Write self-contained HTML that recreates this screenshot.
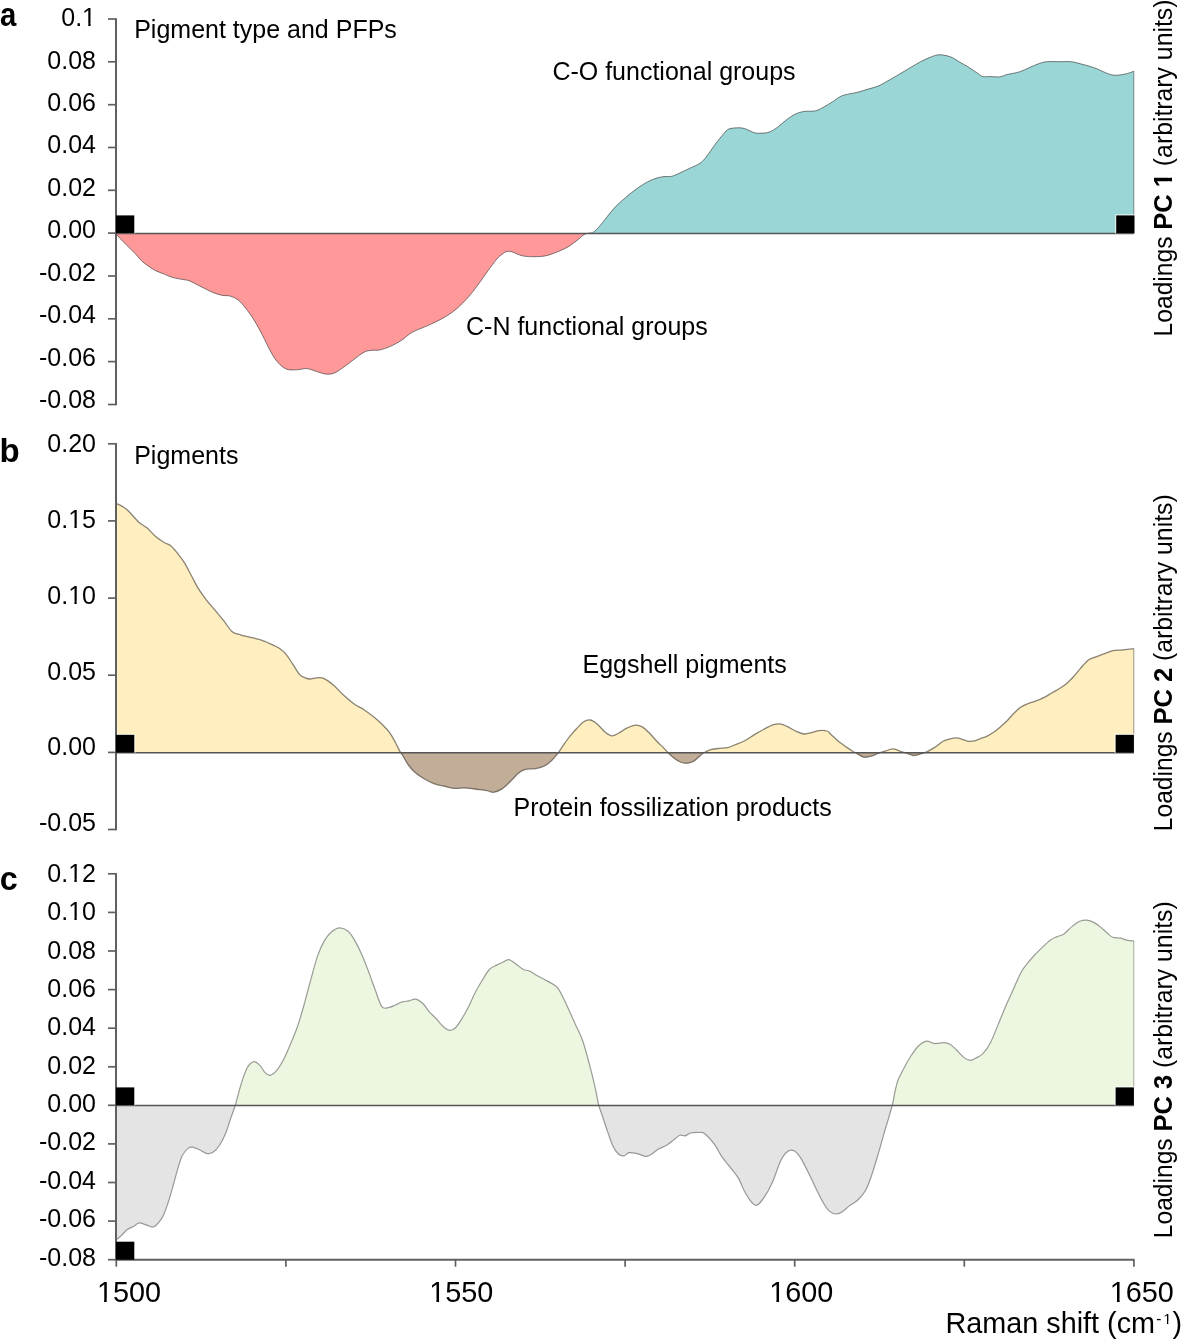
<!DOCTYPE html>
<html><head><meta charset="utf-8"><style>
html,body{margin:0;padding:0;background:#fff;overflow:hidden;width:1181px;height:1340px;}
svg{display:block;will-change:transform;}
text{font-family:"Liberation Sans", sans-serif;fill:#000;}
.tk{font-size:25px;}
.xl{font-size:28.8px;}
.xt{font-size:28.8px;}
.an{font-size:25px;}
.pl{font-size:33px;font-weight:bold;}
.rl{font-size:25px;}
</style></head><body>
<svg width="1181" height="1340" viewBox="0 0 1181 1340">
<clipPath id="ap"><rect x="0" y="0" width="1181" height="233.4"/></clipPath>
<clipPath id="an"><rect x="0" y="233.4" width="1181" height="600"/></clipPath>
<path d="M116.4,234.3C117,235 118.5,236.7 120.2,238.5C122,240.3 124.4,242.8 126.9,245.3C129.4,247.9 132.9,251.1 135.4,253.8C137.9,256.5 139.9,259.3 142.2,261.4C144.5,263.5 146.8,264.9 149,266.5C151.2,268.1 153.2,269.4 155.7,270.7C158.2,272 161.4,273 164.2,274.1C167,275.2 169.6,276.6 172.7,277.5C175.8,278.4 180,278.9 182.8,279.5C185.6,280.1 186.8,279.8 189.6,280.9C192.4,282 196.1,284.2 199.8,286C203.5,287.8 207.9,290.3 211.6,291.9C215.3,293.4 218.7,294.6 221.8,295.3C224.9,296 227.4,295.2 230.2,296.1C233,297 236.1,298.4 238.7,300.4C241.2,302.4 243,304.8 245.5,308C248,311.2 251.1,315.3 253.9,319.8C256.7,324.3 259.6,329.7 262.4,335.1C265.2,340.5 268.3,347.5 270.9,352C273.4,356.5 275.2,359.4 277.7,362.2C280.2,365 283,367.7 286.1,369C289.2,370.3 292.9,369.9 296.3,369.8C299.8,369.7 303.7,368.4 306.8,368.6C309.9,368.8 312.1,370.1 315.2,371C318.3,371.9 322.3,373.6 325.4,374C328.5,374.4 331.1,374.2 333.9,373.2C336.7,372.2 339.2,370.2 342.3,368.1C345.4,366 348.8,363.2 352.5,360.5C356.2,357.8 361,353.7 364.4,352C367.8,350.3 370.3,350.6 372.8,350.3C375.3,350 376.8,350.6 379.6,350C382.4,349.4 386.1,348.2 389.8,346.6C393.5,345 397.9,342.6 401.6,340.2C405.3,337.8 407.9,334.8 411.8,332.5C415.8,330.2 421.4,328.4 425.3,326.6C429.2,324.9 431.8,323.8 435.5,322C439.2,320.2 443.6,317.9 447.3,315.6C451,313.3 454.1,311 457.5,308C460.9,305 464.3,301.6 467.7,297.8C471.1,294 474.4,289.6 477.8,285.1C481.2,280.6 484.8,275 488,270.7C491.2,266.4 494.5,261.8 496.8,259.1C499.1,256.4 500.2,255.7 501.9,254.4C503.6,253.1 505.2,251.9 506.9,251.5C508.6,251.1 510.3,251.4 512,251.8C513.7,252.2 515.1,253.3 517.1,254C519.1,254.7 521.1,255.7 523.9,256.1C526.7,256.6 530.6,256.7 534,256.7C537.4,256.7 541.1,256.6 544.2,256.1C547.3,255.6 549.9,254.7 552.7,253.7C555.5,252.7 558.3,251.6 561.1,250.3C563.9,249 566.8,247.7 569.6,245.9C572.4,244.1 575.6,241.6 578.1,239.6C580.6,237.6 582.5,235.3 584.8,234.2C587,233.1 590.2,233.2 591.6,232.9C593,232.6 592,233.5 593.4,232.3C594.8,231.1 598,228.1 600.2,225.5C602.5,222.9 604.4,220.1 606.9,217C609.4,213.9 612.3,210.1 615.4,206.8C618.5,203.6 622.5,200.2 625.6,197.5C628.7,194.8 631.2,192.9 634,190.8C636.8,188.7 639.4,186.7 642.5,184.8C645.6,182.9 649.3,180.8 652.7,179.4C656.1,178.1 659.7,177.2 662.8,176.7C665.9,176.2 668.5,177 671.3,176.4C674.1,175.8 676.7,174.4 679.8,173C682.9,171.6 686.5,169.8 689.9,168.2C693.3,166.6 697.3,165.2 700.1,163.2C702.9,161.2 704.4,159.2 706.9,156C709.4,152.8 712.5,147.9 715.3,144.2C718.1,140.5 721.5,136.2 723.8,133.7C726.1,131.2 726.4,130 728.9,129C731.4,128 736.2,127.8 739,127.8C741.8,127.8 743.2,128.2 745.8,129C748.3,129.8 751.8,132 754.3,132.7C756.8,133.4 758.5,133.3 761,133.2C763.5,133.1 766.7,133.1 769.5,132C772.3,130.9 775.1,129 778,126.9C780.9,124.8 783.9,121.7 786.8,119.6C789.7,117.5 792.4,115.5 795.2,114.2C798,112.9 800.3,112.1 803.7,111.5C807.1,110.9 812.2,111.6 815.6,110.8C819,110 821.2,108.4 824,106.9C826.8,105.4 829.7,103.6 832.5,101.8C835.3,100 838.2,97.5 841,96.2C843.8,94.9 846.6,94.6 849.4,93.9C852.2,93.2 854.8,93 857.9,92.2C861,91.4 864.7,90.1 868.1,89.1C871.5,88.1 875.1,87.4 878.2,86.1C881.3,84.8 883.3,83.4 886.7,81.5C890.1,79.6 894.5,77 898.5,74.7C902.5,72.4 906.7,69.8 910.4,67.6C914.1,65.4 917.5,63.3 920.6,61.7C923.7,60.1 926.2,58.9 929,57.8C931.8,56.7 934.7,55.3 937.5,54.9C940.3,54.5 943.5,55.1 946,55.6C948.5,56.1 950.5,56.7 952.7,57.8C955,58.9 957,60.5 959.5,62C962,63.5 965.1,65 968,66.8C970.9,68.6 974.3,71.1 976.8,72.7C979.3,74.3 980.6,75.9 982.9,76.5C985.2,77.1 987.7,76.4 990.5,76.5C993.3,76.6 996.8,77.2 999.6,76.9C1002.4,76.6 1003.9,75.3 1007.2,74.5C1010.5,73.7 1015.6,73.1 1019.4,71.9C1023.2,70.7 1026.8,68.7 1030.1,67.3C1033.4,65.9 1036.5,64.4 1039.3,63.5C1042.1,62.6 1043.6,62 1046.9,61.7C1050.2,61.4 1055,61.7 1059.1,61.7C1063.2,61.7 1067.8,61.4 1071.3,61.7C1074.8,62.1 1077.4,63 1080.4,63.8C1083.5,64.6 1086.8,65.4 1089.6,66.3C1092.4,67.2 1094.7,67.9 1097.2,68.9C1099.7,69.9 1102.3,71.4 1104.8,72.4C1107.3,73.4 1109.9,74.6 1112.4,75C1114.9,75.4 1117.5,75.3 1120,75C1122.5,74.7 1125.4,74 1127.7,73.4C1130,72.8 1132.8,71.6 1133.8,71.2L1133.8,233.4L116.4,233.4Z" fill="#9bd6d6" clip-path="url(#ap)"/>
<path d="M116.4,234.3C117,235 118.5,236.7 120.2,238.5C122,240.3 124.4,242.8 126.9,245.3C129.4,247.9 132.9,251.1 135.4,253.8C137.9,256.5 139.9,259.3 142.2,261.4C144.5,263.5 146.8,264.9 149,266.5C151.2,268.1 153.2,269.4 155.7,270.7C158.2,272 161.4,273 164.2,274.1C167,275.2 169.6,276.6 172.7,277.5C175.8,278.4 180,278.9 182.8,279.5C185.6,280.1 186.8,279.8 189.6,280.9C192.4,282 196.1,284.2 199.8,286C203.5,287.8 207.9,290.3 211.6,291.9C215.3,293.4 218.7,294.6 221.8,295.3C224.9,296 227.4,295.2 230.2,296.1C233,297 236.1,298.4 238.7,300.4C241.2,302.4 243,304.8 245.5,308C248,311.2 251.1,315.3 253.9,319.8C256.7,324.3 259.6,329.7 262.4,335.1C265.2,340.5 268.3,347.5 270.9,352C273.4,356.5 275.2,359.4 277.7,362.2C280.2,365 283,367.7 286.1,369C289.2,370.3 292.9,369.9 296.3,369.8C299.8,369.7 303.7,368.4 306.8,368.6C309.9,368.8 312.1,370.1 315.2,371C318.3,371.9 322.3,373.6 325.4,374C328.5,374.4 331.1,374.2 333.9,373.2C336.7,372.2 339.2,370.2 342.3,368.1C345.4,366 348.8,363.2 352.5,360.5C356.2,357.8 361,353.7 364.4,352C367.8,350.3 370.3,350.6 372.8,350.3C375.3,350 376.8,350.6 379.6,350C382.4,349.4 386.1,348.2 389.8,346.6C393.5,345 397.9,342.6 401.6,340.2C405.3,337.8 407.9,334.8 411.8,332.5C415.8,330.2 421.4,328.4 425.3,326.6C429.2,324.9 431.8,323.8 435.5,322C439.2,320.2 443.6,317.9 447.3,315.6C451,313.3 454.1,311 457.5,308C460.9,305 464.3,301.6 467.7,297.8C471.1,294 474.4,289.6 477.8,285.1C481.2,280.6 484.8,275 488,270.7C491.2,266.4 494.5,261.8 496.8,259.1C499.1,256.4 500.2,255.7 501.9,254.4C503.6,253.1 505.2,251.9 506.9,251.5C508.6,251.1 510.3,251.4 512,251.8C513.7,252.2 515.1,253.3 517.1,254C519.1,254.7 521.1,255.7 523.9,256.1C526.7,256.6 530.6,256.7 534,256.7C537.4,256.7 541.1,256.6 544.2,256.1C547.3,255.6 549.9,254.7 552.7,253.7C555.5,252.7 558.3,251.6 561.1,250.3C563.9,249 566.8,247.7 569.6,245.9C572.4,244.1 575.6,241.6 578.1,239.6C580.6,237.6 582.5,235.3 584.8,234.2C587,233.1 590.2,233.2 591.6,232.9C593,232.6 592,233.5 593.4,232.3C594.8,231.1 598,228.1 600.2,225.5C602.5,222.9 604.4,220.1 606.9,217C609.4,213.9 612.3,210.1 615.4,206.8C618.5,203.6 622.5,200.2 625.6,197.5C628.7,194.8 631.2,192.9 634,190.8C636.8,188.7 639.4,186.7 642.5,184.8C645.6,182.9 649.3,180.8 652.7,179.4C656.1,178.1 659.7,177.2 662.8,176.7C665.9,176.2 668.5,177 671.3,176.4C674.1,175.8 676.7,174.4 679.8,173C682.9,171.6 686.5,169.8 689.9,168.2C693.3,166.6 697.3,165.2 700.1,163.2C702.9,161.2 704.4,159.2 706.9,156C709.4,152.8 712.5,147.9 715.3,144.2C718.1,140.5 721.5,136.2 723.8,133.7C726.1,131.2 726.4,130 728.9,129C731.4,128 736.2,127.8 739,127.8C741.8,127.8 743.2,128.2 745.8,129C748.3,129.8 751.8,132 754.3,132.7C756.8,133.4 758.5,133.3 761,133.2C763.5,133.1 766.7,133.1 769.5,132C772.3,130.9 775.1,129 778,126.9C780.9,124.8 783.9,121.7 786.8,119.6C789.7,117.5 792.4,115.5 795.2,114.2C798,112.9 800.3,112.1 803.7,111.5C807.1,110.9 812.2,111.6 815.6,110.8C819,110 821.2,108.4 824,106.9C826.8,105.4 829.7,103.6 832.5,101.8C835.3,100 838.2,97.5 841,96.2C843.8,94.9 846.6,94.6 849.4,93.9C852.2,93.2 854.8,93 857.9,92.2C861,91.4 864.7,90.1 868.1,89.1C871.5,88.1 875.1,87.4 878.2,86.1C881.3,84.8 883.3,83.4 886.7,81.5C890.1,79.6 894.5,77 898.5,74.7C902.5,72.4 906.7,69.8 910.4,67.6C914.1,65.4 917.5,63.3 920.6,61.7C923.7,60.1 926.2,58.9 929,57.8C931.8,56.7 934.7,55.3 937.5,54.9C940.3,54.5 943.5,55.1 946,55.6C948.5,56.1 950.5,56.7 952.7,57.8C955,58.9 957,60.5 959.5,62C962,63.5 965.1,65 968,66.8C970.9,68.6 974.3,71.1 976.8,72.7C979.3,74.3 980.6,75.9 982.9,76.5C985.2,77.1 987.7,76.4 990.5,76.5C993.3,76.6 996.8,77.2 999.6,76.9C1002.4,76.6 1003.9,75.3 1007.2,74.5C1010.5,73.7 1015.6,73.1 1019.4,71.9C1023.2,70.7 1026.8,68.7 1030.1,67.3C1033.4,65.9 1036.5,64.4 1039.3,63.5C1042.1,62.6 1043.6,62 1046.9,61.7C1050.2,61.4 1055,61.7 1059.1,61.7C1063.2,61.7 1067.8,61.4 1071.3,61.7C1074.8,62.1 1077.4,63 1080.4,63.8C1083.5,64.6 1086.8,65.4 1089.6,66.3C1092.4,67.2 1094.7,67.9 1097.2,68.9C1099.7,69.9 1102.3,71.4 1104.8,72.4C1107.3,73.4 1109.9,74.6 1112.4,75C1114.9,75.4 1117.5,75.3 1120,75C1122.5,74.7 1125.4,74 1127.7,73.4C1130,72.8 1132.8,71.6 1133.8,71.2L1133.8,233.4L116.4,233.4Z" fill="#ff9999" clip-path="url(#an)"/>
<path d="M116.4,234.3C117,235 118.5,236.7 120.2,238.5C122,240.3 124.4,242.8 126.9,245.3C129.4,247.9 132.9,251.1 135.4,253.8C137.9,256.5 139.9,259.3 142.2,261.4C144.5,263.5 146.8,264.9 149,266.5C151.2,268.1 153.2,269.4 155.7,270.7C158.2,272 161.4,273 164.2,274.1C167,275.2 169.6,276.6 172.7,277.5C175.8,278.4 180,278.9 182.8,279.5C185.6,280.1 186.8,279.8 189.6,280.9C192.4,282 196.1,284.2 199.8,286C203.5,287.8 207.9,290.3 211.6,291.9C215.3,293.4 218.7,294.6 221.8,295.3C224.9,296 227.4,295.2 230.2,296.1C233,297 236.1,298.4 238.7,300.4C241.2,302.4 243,304.8 245.5,308C248,311.2 251.1,315.3 253.9,319.8C256.7,324.3 259.6,329.7 262.4,335.1C265.2,340.5 268.3,347.5 270.9,352C273.4,356.5 275.2,359.4 277.7,362.2C280.2,365 283,367.7 286.1,369C289.2,370.3 292.9,369.9 296.3,369.8C299.8,369.7 303.7,368.4 306.8,368.6C309.9,368.8 312.1,370.1 315.2,371C318.3,371.9 322.3,373.6 325.4,374C328.5,374.4 331.1,374.2 333.9,373.2C336.7,372.2 339.2,370.2 342.3,368.1C345.4,366 348.8,363.2 352.5,360.5C356.2,357.8 361,353.7 364.4,352C367.8,350.3 370.3,350.6 372.8,350.3C375.3,350 376.8,350.6 379.6,350C382.4,349.4 386.1,348.2 389.8,346.6C393.5,345 397.9,342.6 401.6,340.2C405.3,337.8 407.9,334.8 411.8,332.5C415.8,330.2 421.4,328.4 425.3,326.6C429.2,324.9 431.8,323.8 435.5,322C439.2,320.2 443.6,317.9 447.3,315.6C451,313.3 454.1,311 457.5,308C460.9,305 464.3,301.6 467.7,297.8C471.1,294 474.4,289.6 477.8,285.1C481.2,280.6 484.8,275 488,270.7C491.2,266.4 494.5,261.8 496.8,259.1C499.1,256.4 500.2,255.7 501.9,254.4C503.6,253.1 505.2,251.9 506.9,251.5C508.6,251.1 510.3,251.4 512,251.8C513.7,252.2 515.1,253.3 517.1,254C519.1,254.7 521.1,255.7 523.9,256.1C526.7,256.6 530.6,256.7 534,256.7C537.4,256.7 541.1,256.6 544.2,256.1C547.3,255.6 549.9,254.7 552.7,253.7C555.5,252.7 558.3,251.6 561.1,250.3C563.9,249 566.8,247.7 569.6,245.9C572.4,244.1 575.6,241.6 578.1,239.6C580.6,237.6 582.5,235.3 584.8,234.2C587,233.1 590.2,233.2 591.6,232.9C593,232.6 592,233.5 593.4,232.3C594.8,231.1 598,228.1 600.2,225.5C602.5,222.9 604.4,220.1 606.9,217C609.4,213.9 612.3,210.1 615.4,206.8C618.5,203.6 622.5,200.2 625.6,197.5C628.7,194.8 631.2,192.9 634,190.8C636.8,188.7 639.4,186.7 642.5,184.8C645.6,182.9 649.3,180.8 652.7,179.4C656.1,178.1 659.7,177.2 662.8,176.7C665.9,176.2 668.5,177 671.3,176.4C674.1,175.8 676.7,174.4 679.8,173C682.9,171.6 686.5,169.8 689.9,168.2C693.3,166.6 697.3,165.2 700.1,163.2C702.9,161.2 704.4,159.2 706.9,156C709.4,152.8 712.5,147.9 715.3,144.2C718.1,140.5 721.5,136.2 723.8,133.7C726.1,131.2 726.4,130 728.9,129C731.4,128 736.2,127.8 739,127.8C741.8,127.8 743.2,128.2 745.8,129C748.3,129.8 751.8,132 754.3,132.7C756.8,133.4 758.5,133.3 761,133.2C763.5,133.1 766.7,133.1 769.5,132C772.3,130.9 775.1,129 778,126.9C780.9,124.8 783.9,121.7 786.8,119.6C789.7,117.5 792.4,115.5 795.2,114.2C798,112.9 800.3,112.1 803.7,111.5C807.1,110.9 812.2,111.6 815.6,110.8C819,110 821.2,108.4 824,106.9C826.8,105.4 829.7,103.6 832.5,101.8C835.3,100 838.2,97.5 841,96.2C843.8,94.9 846.6,94.6 849.4,93.9C852.2,93.2 854.8,93 857.9,92.2C861,91.4 864.7,90.1 868.1,89.1C871.5,88.1 875.1,87.4 878.2,86.1C881.3,84.8 883.3,83.4 886.7,81.5C890.1,79.6 894.5,77 898.5,74.7C902.5,72.4 906.7,69.8 910.4,67.6C914.1,65.4 917.5,63.3 920.6,61.7C923.7,60.1 926.2,58.9 929,57.8C931.8,56.7 934.7,55.3 937.5,54.9C940.3,54.5 943.5,55.1 946,55.6C948.5,56.1 950.5,56.7 952.7,57.8C955,58.9 957,60.5 959.5,62C962,63.5 965.1,65 968,66.8C970.9,68.6 974.3,71.1 976.8,72.7C979.3,74.3 980.6,75.9 982.9,76.5C985.2,77.1 987.7,76.4 990.5,76.5C993.3,76.6 996.8,77.2 999.6,76.9C1002.4,76.6 1003.9,75.3 1007.2,74.5C1010.5,73.7 1015.6,73.1 1019.4,71.9C1023.2,70.7 1026.8,68.7 1030.1,67.3C1033.4,65.9 1036.5,64.4 1039.3,63.5C1042.1,62.6 1043.6,62 1046.9,61.7C1050.2,61.4 1055,61.7 1059.1,61.7C1063.2,61.7 1067.8,61.4 1071.3,61.7C1074.8,62.1 1077.4,63 1080.4,63.8C1083.5,64.6 1086.8,65.4 1089.6,66.3C1092.4,67.2 1094.7,67.9 1097.2,68.9C1099.7,69.9 1102.3,71.4 1104.8,72.4C1107.3,73.4 1109.9,74.6 1112.4,75C1114.9,75.4 1117.5,75.3 1120,75C1122.5,74.7 1125.4,74 1127.7,73.4C1130,72.8 1132.8,71.6 1133.8,71.2" fill="none" stroke="#2a2a2a" stroke-width="1.0" stroke-opacity="0.6"/>
<line x1="1133.8" y1="71.2" x2="1133.8" y2="233.4" stroke="#2a2a2a" stroke-width="1" opacity="0.5"/>
<line x1="116.0" y1="233.4" x2="1133.8" y2="233.4" stroke="#555" stroke-width="1.5"/>
<clipPath id="bp"><rect x="0" y="0" width="1181" height="752.8"/></clipPath>
<clipPath id="bn"><rect x="0" y="752.8" width="1181" height="600"/></clipPath>
<path d="M116.4,503.5C117.3,503.9 119.9,504.8 121.9,506.1C123.9,507.4 125.8,508.5 128.6,511.2C131.4,513.9 135.7,519.4 138.8,522.2C141.9,525 144.5,525.7 147.3,528.1C150.1,530.5 152.9,534.2 155.7,536.6C158.5,539 161.6,541 164.2,542.5C166.8,544 168.8,544.1 171,545.9C173.2,547.7 175.4,550.7 177.7,553.5C179.9,556.3 182.2,559.1 184.5,562.8C186.8,566.5 189,571.3 191.3,575.5C193.6,579.7 195.6,584.1 198.1,588.2C200.6,592.3 203.7,596.4 206.5,600.1C209.3,603.8 212.2,606.8 215,610.2C217.8,613.6 220.7,616.9 223.5,620.4C226.3,623.9 229.1,629 231.9,631.4C234.7,633.8 237.3,633.8 240.4,634.8C243.5,635.8 247.2,636.4 250.6,637.3C254,638.1 257.3,638.8 260.7,639.9C264.1,641 267.8,642.7 270.9,644.1C274,645.5 276.8,646.6 279.3,648.3C281.8,650 283.8,651.6 286.1,654.3C288.4,657 290.6,661 292.9,664.4C295.2,667.8 297.7,672.4 299.7,674.6C301.7,676.8 303.4,677.1 305.1,677.8C306.9,678.5 308.2,679 310.2,679C312.2,679 314.6,677.9 316.9,677.8C319.1,677.7 320.9,677 323.7,678.3C326.5,679.6 330.5,682.5 333.9,685.4C337.3,688.3 340.6,692.5 344,695.6C347.4,698.7 350.8,701.6 354.2,704C357.6,706.4 361,707.7 364.4,710C367.8,712.3 371.4,715.1 374.5,717.6C377.6,720.1 380.4,722.7 383,725.2C385.6,727.7 387.7,729.8 389.8,732.8C391.9,735.8 394,739.9 395.7,743C397.4,746.1 398.6,749.1 399.9,751.4C401.2,753.6 401.9,754.2 403.3,756.5C404.7,758.8 406.4,762.3 408.4,765C410.4,767.7 412.7,770.4 415.2,772.6C417.7,774.9 420.5,776.7 423.6,778.5C426.7,780.3 430.4,782.3 433.8,783.6C437.2,784.9 440.5,785.4 443.9,786.2C447.3,787 450.7,788.1 454.1,788.4C457.5,788.7 460.9,787.8 464.3,787.9C467.7,788 470.6,788.5 474.4,789C478.1,789.5 483.6,790.1 486.8,790.6C490,791.1 491,792.6 493.5,792.3C496,792 499.2,790.7 502,788.9C504.8,787.1 507.7,784 510.5,781.3C513.3,778.6 516.4,774.8 518.9,772.8C521.4,770.8 522.9,770.1 525.7,769.4C528.5,768.7 532.8,769.2 535.9,768.6C539,768 541.9,767.3 544.4,766C546.9,764.7 548.9,763.1 551.1,761C553.4,758.9 555.9,755.8 557.9,753.3C559.9,750.8 561,748.5 563,745.7C565,742.9 567.5,739.2 569.8,736.4C572,733.6 574.2,731.2 576.5,728.8C578.8,726.4 581,723.5 583.3,722C585.6,720.5 587.9,719.7 590.1,720C592.4,720.3 594.3,721.7 596.8,723.7C599.3,725.7 602.8,730.2 605.3,732.2C607.8,734.2 609.8,735.8 612.1,735.9C614.4,736 616.4,734.3 618.9,733C621.4,731.7 624.5,729.2 627.3,727.9C630.1,726.6 633.2,725.2 635.8,725.1C638.3,725 640.4,725.8 642.6,727.1C644.9,728.4 646.8,730.5 649.3,733C651.8,735.5 655.4,739.9 657.8,742.3C660.1,744.7 661.8,745.9 663.4,747.6C665,749.3 665.9,750.6 667.6,752.3C669.3,754 671.4,756.1 673.5,757.7C675.6,759.3 678,761.1 680.3,762C682.6,762.9 684.8,763.4 687.1,763.2C689.4,763.1 691.6,762.4 693.9,761.1C696.1,759.8 698.6,756.8 700.6,755.2C702.6,753.7 704,752.7 705.7,751.8C707.4,750.9 708.5,750.2 710.8,749.6C713.1,749 716.5,748.7 719.3,748.4C722.1,748.1 725.2,748.2 727.7,747.6C730.2,747 731.7,746.1 734.5,745C737.3,743.9 741.3,742.6 744.7,740.8C748.1,739 751.4,736.4 754.8,734.4C758.2,732.4 761.9,730.2 765,728.6C768.1,727 771,725.5 773.5,724.7C776,723.9 778,723.6 780.2,723.9C782.5,724.2 784.5,725.2 787,726.4C789.5,727.6 792.7,729.7 795.5,731C798.3,732.3 801.2,733.8 804,734C806.8,734.2 809.9,732.9 812.4,732.3C814.9,731.7 816.8,730.8 819.2,730.6C821.6,730.4 824.8,730.4 826.8,731C828.8,731.6 829.2,732.8 831,734.4C832.8,736 835.2,738.6 837.8,740.8C840.4,743 844.2,745.6 846.8,747.4C849.4,749.2 851.5,750.5 853.5,751.8C855.5,753 857.2,754 859,754.9C860.8,755.8 862.4,757 864.4,757.2C866.4,757.4 868.7,756.9 871.2,756.2C873.7,755.5 876.8,753.7 879.3,752.8C881.8,751.9 883.9,751.5 886.1,750.8C888.4,750.1 891,748.9 892.8,748.8C894.6,748.6 895.5,749.4 896.9,749.9C898.3,750.4 899.4,751 901,751.5C902.6,752 904.4,752.4 906.4,753.1C908.4,753.8 911,755.3 913.2,755.5C915.5,755.7 917.6,754.8 919.9,754.2C922.1,753.6 924.2,752.9 926.7,751.8C929.2,750.7 932.1,749.1 934.8,747.4C937.5,745.6 940.7,742.6 943,741.3C945.3,739.9 946.1,739.9 948.4,739.3C950.6,738.7 954.2,737.9 956.5,737.9C958.8,737.9 959.9,738.7 961.9,739.3C963.9,739.9 966.4,741.1 968.7,741.3C971,741.5 973.2,741.2 975.5,740.6C977.8,740 980.4,738.6 982.3,737.9C984.2,737.2 984.9,737.3 986.8,736.4C988.7,735.5 991.2,733.9 993.5,732.3C995.8,730.7 998,728.8 1000.3,726.9C1002.6,725 1004.8,723.1 1007.1,720.8C1009.4,718.5 1011.6,715.6 1013.9,713.3C1016.1,711 1018.4,708.8 1020.6,707.2C1022.9,705.6 1024.9,704.8 1027.4,703.8C1029.9,702.8 1032.8,702.1 1035.5,701.1C1038.2,700.1 1041,699.1 1043.7,697.7C1046.4,696.4 1049.1,694.6 1051.8,693C1054.5,691.4 1057.4,689.9 1059.9,688.3C1062.4,686.7 1064.4,685.4 1066.7,683.5C1069,681.6 1071.2,679.2 1073.5,676.7C1075.8,674.2 1077.8,671.4 1080.3,668.6C1082.8,665.8 1085.9,662 1088.4,660.1C1090.9,658.2 1092.5,658.2 1095.2,657.1C1097.9,656 1101.7,654.8 1104.6,653.7C1107.5,652.6 1110.1,651.3 1112.8,650.7C1115.5,650.1 1118.4,650.3 1120.9,650.1C1123.4,649.9 1125.6,649.6 1127.7,649.4C1129.8,649.2 1132.8,648.8 1133.8,648.7L1133.8,752.8L116.4,752.8Z" fill="#ffeebf" clip-path="url(#bp)"/>
<path d="M116.4,503.5C117.3,503.9 119.9,504.8 121.9,506.1C123.9,507.4 125.8,508.5 128.6,511.2C131.4,513.9 135.7,519.4 138.8,522.2C141.9,525 144.5,525.7 147.3,528.1C150.1,530.5 152.9,534.2 155.7,536.6C158.5,539 161.6,541 164.2,542.5C166.8,544 168.8,544.1 171,545.9C173.2,547.7 175.4,550.7 177.7,553.5C179.9,556.3 182.2,559.1 184.5,562.8C186.8,566.5 189,571.3 191.3,575.5C193.6,579.7 195.6,584.1 198.1,588.2C200.6,592.3 203.7,596.4 206.5,600.1C209.3,603.8 212.2,606.8 215,610.2C217.8,613.6 220.7,616.9 223.5,620.4C226.3,623.9 229.1,629 231.9,631.4C234.7,633.8 237.3,633.8 240.4,634.8C243.5,635.8 247.2,636.4 250.6,637.3C254,638.1 257.3,638.8 260.7,639.9C264.1,641 267.8,642.7 270.9,644.1C274,645.5 276.8,646.6 279.3,648.3C281.8,650 283.8,651.6 286.1,654.3C288.4,657 290.6,661 292.9,664.4C295.2,667.8 297.7,672.4 299.7,674.6C301.7,676.8 303.4,677.1 305.1,677.8C306.9,678.5 308.2,679 310.2,679C312.2,679 314.6,677.9 316.9,677.8C319.1,677.7 320.9,677 323.7,678.3C326.5,679.6 330.5,682.5 333.9,685.4C337.3,688.3 340.6,692.5 344,695.6C347.4,698.7 350.8,701.6 354.2,704C357.6,706.4 361,707.7 364.4,710C367.8,712.3 371.4,715.1 374.5,717.6C377.6,720.1 380.4,722.7 383,725.2C385.6,727.7 387.7,729.8 389.8,732.8C391.9,735.8 394,739.9 395.7,743C397.4,746.1 398.6,749.1 399.9,751.4C401.2,753.6 401.9,754.2 403.3,756.5C404.7,758.8 406.4,762.3 408.4,765C410.4,767.7 412.7,770.4 415.2,772.6C417.7,774.9 420.5,776.7 423.6,778.5C426.7,780.3 430.4,782.3 433.8,783.6C437.2,784.9 440.5,785.4 443.9,786.2C447.3,787 450.7,788.1 454.1,788.4C457.5,788.7 460.9,787.8 464.3,787.9C467.7,788 470.6,788.5 474.4,789C478.1,789.5 483.6,790.1 486.8,790.6C490,791.1 491,792.6 493.5,792.3C496,792 499.2,790.7 502,788.9C504.8,787.1 507.7,784 510.5,781.3C513.3,778.6 516.4,774.8 518.9,772.8C521.4,770.8 522.9,770.1 525.7,769.4C528.5,768.7 532.8,769.2 535.9,768.6C539,768 541.9,767.3 544.4,766C546.9,764.7 548.9,763.1 551.1,761C553.4,758.9 555.9,755.8 557.9,753.3C559.9,750.8 561,748.5 563,745.7C565,742.9 567.5,739.2 569.8,736.4C572,733.6 574.2,731.2 576.5,728.8C578.8,726.4 581,723.5 583.3,722C585.6,720.5 587.9,719.7 590.1,720C592.4,720.3 594.3,721.7 596.8,723.7C599.3,725.7 602.8,730.2 605.3,732.2C607.8,734.2 609.8,735.8 612.1,735.9C614.4,736 616.4,734.3 618.9,733C621.4,731.7 624.5,729.2 627.3,727.9C630.1,726.6 633.2,725.2 635.8,725.1C638.3,725 640.4,725.8 642.6,727.1C644.9,728.4 646.8,730.5 649.3,733C651.8,735.5 655.4,739.9 657.8,742.3C660.1,744.7 661.8,745.9 663.4,747.6C665,749.3 665.9,750.6 667.6,752.3C669.3,754 671.4,756.1 673.5,757.7C675.6,759.3 678,761.1 680.3,762C682.6,762.9 684.8,763.4 687.1,763.2C689.4,763.1 691.6,762.4 693.9,761.1C696.1,759.8 698.6,756.8 700.6,755.2C702.6,753.7 704,752.7 705.7,751.8C707.4,750.9 708.5,750.2 710.8,749.6C713.1,749 716.5,748.7 719.3,748.4C722.1,748.1 725.2,748.2 727.7,747.6C730.2,747 731.7,746.1 734.5,745C737.3,743.9 741.3,742.6 744.7,740.8C748.1,739 751.4,736.4 754.8,734.4C758.2,732.4 761.9,730.2 765,728.6C768.1,727 771,725.5 773.5,724.7C776,723.9 778,723.6 780.2,723.9C782.5,724.2 784.5,725.2 787,726.4C789.5,727.6 792.7,729.7 795.5,731C798.3,732.3 801.2,733.8 804,734C806.8,734.2 809.9,732.9 812.4,732.3C814.9,731.7 816.8,730.8 819.2,730.6C821.6,730.4 824.8,730.4 826.8,731C828.8,731.6 829.2,732.8 831,734.4C832.8,736 835.2,738.6 837.8,740.8C840.4,743 844.2,745.6 846.8,747.4C849.4,749.2 851.5,750.5 853.5,751.8C855.5,753 857.2,754 859,754.9C860.8,755.8 862.4,757 864.4,757.2C866.4,757.4 868.7,756.9 871.2,756.2C873.7,755.5 876.8,753.7 879.3,752.8C881.8,751.9 883.9,751.5 886.1,750.8C888.4,750.1 891,748.9 892.8,748.8C894.6,748.6 895.5,749.4 896.9,749.9C898.3,750.4 899.4,751 901,751.5C902.6,752 904.4,752.4 906.4,753.1C908.4,753.8 911,755.3 913.2,755.5C915.5,755.7 917.6,754.8 919.9,754.2C922.1,753.6 924.2,752.9 926.7,751.8C929.2,750.7 932.1,749.1 934.8,747.4C937.5,745.6 940.7,742.6 943,741.3C945.3,739.9 946.1,739.9 948.4,739.3C950.6,738.7 954.2,737.9 956.5,737.9C958.8,737.9 959.9,738.7 961.9,739.3C963.9,739.9 966.4,741.1 968.7,741.3C971,741.5 973.2,741.2 975.5,740.6C977.8,740 980.4,738.6 982.3,737.9C984.2,737.2 984.9,737.3 986.8,736.4C988.7,735.5 991.2,733.9 993.5,732.3C995.8,730.7 998,728.8 1000.3,726.9C1002.6,725 1004.8,723.1 1007.1,720.8C1009.4,718.5 1011.6,715.6 1013.9,713.3C1016.1,711 1018.4,708.8 1020.6,707.2C1022.9,705.6 1024.9,704.8 1027.4,703.8C1029.9,702.8 1032.8,702.1 1035.5,701.1C1038.2,700.1 1041,699.1 1043.7,697.7C1046.4,696.4 1049.1,694.6 1051.8,693C1054.5,691.4 1057.4,689.9 1059.9,688.3C1062.4,686.7 1064.4,685.4 1066.7,683.5C1069,681.6 1071.2,679.2 1073.5,676.7C1075.8,674.2 1077.8,671.4 1080.3,668.6C1082.8,665.8 1085.9,662 1088.4,660.1C1090.9,658.2 1092.5,658.2 1095.2,657.1C1097.9,656 1101.7,654.8 1104.6,653.7C1107.5,652.6 1110.1,651.3 1112.8,650.7C1115.5,650.1 1118.4,650.3 1120.9,650.1C1123.4,649.9 1125.6,649.6 1127.7,649.4C1129.8,649.2 1132.8,648.8 1133.8,648.7L1133.8,752.8L116.4,752.8Z" fill="#c2ad99" clip-path="url(#bn)"/>
<path d="M116.4,503.5C117.3,503.9 119.9,504.8 121.9,506.1C123.9,507.4 125.8,508.5 128.6,511.2C131.4,513.9 135.7,519.4 138.8,522.2C141.9,525 144.5,525.7 147.3,528.1C150.1,530.5 152.9,534.2 155.7,536.6C158.5,539 161.6,541 164.2,542.5C166.8,544 168.8,544.1 171,545.9C173.2,547.7 175.4,550.7 177.7,553.5C179.9,556.3 182.2,559.1 184.5,562.8C186.8,566.5 189,571.3 191.3,575.5C193.6,579.7 195.6,584.1 198.1,588.2C200.6,592.3 203.7,596.4 206.5,600.1C209.3,603.8 212.2,606.8 215,610.2C217.8,613.6 220.7,616.9 223.5,620.4C226.3,623.9 229.1,629 231.9,631.4C234.7,633.8 237.3,633.8 240.4,634.8C243.5,635.8 247.2,636.4 250.6,637.3C254,638.1 257.3,638.8 260.7,639.9C264.1,641 267.8,642.7 270.9,644.1C274,645.5 276.8,646.6 279.3,648.3C281.8,650 283.8,651.6 286.1,654.3C288.4,657 290.6,661 292.9,664.4C295.2,667.8 297.7,672.4 299.7,674.6C301.7,676.8 303.4,677.1 305.1,677.8C306.9,678.5 308.2,679 310.2,679C312.2,679 314.6,677.9 316.9,677.8C319.1,677.7 320.9,677 323.7,678.3C326.5,679.6 330.5,682.5 333.9,685.4C337.3,688.3 340.6,692.5 344,695.6C347.4,698.7 350.8,701.6 354.2,704C357.6,706.4 361,707.7 364.4,710C367.8,712.3 371.4,715.1 374.5,717.6C377.6,720.1 380.4,722.7 383,725.2C385.6,727.7 387.7,729.8 389.8,732.8C391.9,735.8 394,739.9 395.7,743C397.4,746.1 398.6,749.1 399.9,751.4C401.2,753.6 401.9,754.2 403.3,756.5C404.7,758.8 406.4,762.3 408.4,765C410.4,767.7 412.7,770.4 415.2,772.6C417.7,774.9 420.5,776.7 423.6,778.5C426.7,780.3 430.4,782.3 433.8,783.6C437.2,784.9 440.5,785.4 443.9,786.2C447.3,787 450.7,788.1 454.1,788.4C457.5,788.7 460.9,787.8 464.3,787.9C467.7,788 470.6,788.5 474.4,789C478.1,789.5 483.6,790.1 486.8,790.6C490,791.1 491,792.6 493.5,792.3C496,792 499.2,790.7 502,788.9C504.8,787.1 507.7,784 510.5,781.3C513.3,778.6 516.4,774.8 518.9,772.8C521.4,770.8 522.9,770.1 525.7,769.4C528.5,768.7 532.8,769.2 535.9,768.6C539,768 541.9,767.3 544.4,766C546.9,764.7 548.9,763.1 551.1,761C553.4,758.9 555.9,755.8 557.9,753.3C559.9,750.8 561,748.5 563,745.7C565,742.9 567.5,739.2 569.8,736.4C572,733.6 574.2,731.2 576.5,728.8C578.8,726.4 581,723.5 583.3,722C585.6,720.5 587.9,719.7 590.1,720C592.4,720.3 594.3,721.7 596.8,723.7C599.3,725.7 602.8,730.2 605.3,732.2C607.8,734.2 609.8,735.8 612.1,735.9C614.4,736 616.4,734.3 618.9,733C621.4,731.7 624.5,729.2 627.3,727.9C630.1,726.6 633.2,725.2 635.8,725.1C638.3,725 640.4,725.8 642.6,727.1C644.9,728.4 646.8,730.5 649.3,733C651.8,735.5 655.4,739.9 657.8,742.3C660.1,744.7 661.8,745.9 663.4,747.6C665,749.3 665.9,750.6 667.6,752.3C669.3,754 671.4,756.1 673.5,757.7C675.6,759.3 678,761.1 680.3,762C682.6,762.9 684.8,763.4 687.1,763.2C689.4,763.1 691.6,762.4 693.9,761.1C696.1,759.8 698.6,756.8 700.6,755.2C702.6,753.7 704,752.7 705.7,751.8C707.4,750.9 708.5,750.2 710.8,749.6C713.1,749 716.5,748.7 719.3,748.4C722.1,748.1 725.2,748.2 727.7,747.6C730.2,747 731.7,746.1 734.5,745C737.3,743.9 741.3,742.6 744.7,740.8C748.1,739 751.4,736.4 754.8,734.4C758.2,732.4 761.9,730.2 765,728.6C768.1,727 771,725.5 773.5,724.7C776,723.9 778,723.6 780.2,723.9C782.5,724.2 784.5,725.2 787,726.4C789.5,727.6 792.7,729.7 795.5,731C798.3,732.3 801.2,733.8 804,734C806.8,734.2 809.9,732.9 812.4,732.3C814.9,731.7 816.8,730.8 819.2,730.6C821.6,730.4 824.8,730.4 826.8,731C828.8,731.6 829.2,732.8 831,734.4C832.8,736 835.2,738.6 837.8,740.8C840.4,743 844.2,745.6 846.8,747.4C849.4,749.2 851.5,750.5 853.5,751.8C855.5,753 857.2,754 859,754.9C860.8,755.8 862.4,757 864.4,757.2C866.4,757.4 868.7,756.9 871.2,756.2C873.7,755.5 876.8,753.7 879.3,752.8C881.8,751.9 883.9,751.5 886.1,750.8C888.4,750.1 891,748.9 892.8,748.8C894.6,748.6 895.5,749.4 896.9,749.9C898.3,750.4 899.4,751 901,751.5C902.6,752 904.4,752.4 906.4,753.1C908.4,753.8 911,755.3 913.2,755.5C915.5,755.7 917.6,754.8 919.9,754.2C922.1,753.6 924.2,752.9 926.7,751.8C929.2,750.7 932.1,749.1 934.8,747.4C937.5,745.6 940.7,742.6 943,741.3C945.3,739.9 946.1,739.9 948.4,739.3C950.6,738.7 954.2,737.9 956.5,737.9C958.8,737.9 959.9,738.7 961.9,739.3C963.9,739.9 966.4,741.1 968.7,741.3C971,741.5 973.2,741.2 975.5,740.6C977.8,740 980.4,738.6 982.3,737.9C984.2,737.2 984.9,737.3 986.8,736.4C988.7,735.5 991.2,733.9 993.5,732.3C995.8,730.7 998,728.8 1000.3,726.9C1002.6,725 1004.8,723.1 1007.1,720.8C1009.4,718.5 1011.6,715.6 1013.9,713.3C1016.1,711 1018.4,708.8 1020.6,707.2C1022.9,705.6 1024.9,704.8 1027.4,703.8C1029.9,702.8 1032.8,702.1 1035.5,701.1C1038.2,700.1 1041,699.1 1043.7,697.7C1046.4,696.4 1049.1,694.6 1051.8,693C1054.5,691.4 1057.4,689.9 1059.9,688.3C1062.4,686.7 1064.4,685.4 1066.7,683.5C1069,681.6 1071.2,679.2 1073.5,676.7C1075.8,674.2 1077.8,671.4 1080.3,668.6C1082.8,665.8 1085.9,662 1088.4,660.1C1090.9,658.2 1092.5,658.2 1095.2,657.1C1097.9,656 1101.7,654.8 1104.6,653.7C1107.5,652.6 1110.1,651.3 1112.8,650.7C1115.5,650.1 1118.4,650.3 1120.9,650.1C1123.4,649.9 1125.6,649.6 1127.7,649.4C1129.8,649.2 1132.8,648.8 1133.8,648.7" fill="none" stroke="#3a3628" stroke-width="1.3" stroke-opacity="0.6"/>
<line x1="1133.8" y1="648.7" x2="1133.8" y2="752.8" stroke="#3a3628" stroke-width="1" opacity="0.5"/>
<line x1="116.0" y1="752.8" x2="1133.8" y2="752.8" stroke="#555" stroke-width="1.5"/>
<clipPath id="cp"><rect x="0" y="0" width="1181" height="1105.4"/></clipPath>
<clipPath id="cn"><rect x="0" y="1105.4" width="1181" height="600"/></clipPath>
<path d="M116.3,1239.8C117.1,1239.2 119.2,1237.6 121,1235.9C122.8,1234.2 125.1,1231.2 127.2,1229.6C129.3,1228 131.5,1227.6 133.5,1226.5C135.5,1225.4 136.9,1223.3 139,1223C141.1,1222.7 143.7,1224.2 146,1224.9C148.3,1225.6 151,1227.4 153.1,1227C155.2,1226.6 156.9,1224.5 158.6,1222.6C160.3,1220.7 161.7,1218.8 163.3,1215.5C164.9,1212.2 166.4,1207.7 168,1203C169.6,1198.3 171.1,1192.8 172.7,1187.3C174.3,1181.8 175.8,1175.3 177.4,1170.1C179,1164.9 180.3,1159.7 182.1,1156C183.9,1152.3 186.6,1149.5 188.4,1148.1C190.2,1146.6 191.3,1147 193.1,1147.3C194.9,1147.6 197,1148.7 199.3,1149.7C201.7,1150.8 204.8,1153.2 207.2,1153.6C209.5,1154 211.3,1153.4 213.4,1152C215.5,1150.6 217.6,1148.2 219.7,1145C221.8,1141.8 224.2,1136.9 226,1132.5C227.8,1128.1 229.1,1123 230.7,1118.4C232.3,1113.8 234.1,1109.2 235.4,1105C236.7,1100.8 237.2,1097.9 238.5,1093.3C239.8,1088.7 241.6,1082 243.2,1077.6C244.8,1073.1 246.1,1069.3 247.9,1066.6C249.7,1063.9 252.1,1061.7 254.2,1061.6C256.3,1061.5 258.6,1064.1 260.4,1065.9C262.2,1067.8 263.5,1071.1 265.1,1072.7C266.7,1074.3 268.2,1075.7 270.2,1075.3C272.2,1074.9 274.6,1072.9 276.9,1070.2C279.1,1067.5 281.4,1063.6 283.7,1059.2C286,1054.8 288.2,1049.3 290.5,1043.9C292.8,1038.5 295.1,1033.5 297.3,1027C299.6,1020.5 301.8,1012.9 304,1005C306.2,997.1 308.5,987.8 310.8,979.6C313.1,971.4 315.3,962.4 317.6,955.9C319.9,949.4 322.1,944.5 324.4,940.6C326.6,936.7 328.6,934.3 331.1,932.2C333.6,930.1 336.8,928 339.6,927.9C342.4,927.8 345.6,929.2 348.1,931.3C350.6,933.4 352.6,936.8 354.8,940.6C357.1,944.4 359.3,949.1 361.6,954.2C363.9,959.3 366.1,965.2 368.4,971.1C370.7,977 372.9,983.9 375.2,989.8C377.4,995.7 379.6,1003.8 381.9,1006.7C384.1,1009.7 386.4,1007.8 388.7,1007.5C391,1007.2 393.2,1005.9 395.5,1005C397.8,1004.1 400.1,1002.6 402.3,1001.9C404.6,1001.2 406.8,1001.3 409,1000.8C411.2,1000.3 413.5,998.7 415.8,999.1C418.1,999.5 420.4,1001.2 422.6,1003.3C424.9,1005.4 427.1,1009.3 429.3,1011.8C431.6,1014.3 433.8,1016.1 436.1,1018.5C438.4,1020.9 440.6,1024.2 442.9,1026.2C445.2,1028.2 447.6,1030.2 449.7,1030.4C451.8,1030.7 453.6,1029.3 455.4,1027.7C457.2,1026.1 458.6,1023.9 460.7,1020.6C462.8,1017.3 465.5,1012.6 467.9,1008C470.3,1003.4 472.7,997.4 475.1,992.8C477.5,988.2 479.8,984.2 482.2,980.3C484.6,976.4 487,972 489.4,969.5C491.8,967 494.2,966.4 496.6,965.1C499,963.8 501.6,962.7 503.7,961.8C505.8,960.9 507,959.3 509.1,959.7C511.2,960.1 513.8,962.6 516.2,964.2C518.6,965.8 521.3,968.4 523.4,969.5C525.5,970.6 526.7,969.9 528.8,970.8C530.9,971.7 533.2,973.4 535.9,974.9C538.6,976.4 541.9,978.1 544.9,979.7C547.9,981.4 551.5,983.1 553.9,984.8C556.3,986.5 557.1,986.8 559.2,990.1C561.3,993.4 563.7,998.8 566.4,1004.5C569.1,1010.2 572.6,1018.2 575.3,1024.2C578,1030.2 580.1,1033.5 582.5,1040.3C584.9,1047.1 587.6,1057.5 589.7,1065.3C591.8,1073 593.5,1080.2 595,1086.8C596.5,1093.4 597.4,1099.9 598.6,1104.7C599.8,1109.5 600.7,1111 602.2,1115.5C603.7,1120 605.8,1126.5 607.6,1131.6C609.4,1136.7 611.1,1142.2 612.9,1145.9C614.7,1149.6 616.5,1152.3 618.3,1154C620.1,1155.7 621.9,1156 623.7,1155.8C625.5,1155.6 627,1153.1 629.1,1152.7C631.2,1152.3 633.8,1152.9 636.2,1153.4C638.6,1153.9 641.6,1155.3 643.4,1155.8C645.2,1156.3 645.4,1156.7 646.8,1156.4C648.2,1156.1 649.9,1155.1 651.9,1153.9C653.9,1152.7 656.1,1150.6 658.6,1149.1C661.1,1147.6 664.6,1146.5 667.1,1144.9C669.6,1143.4 671.8,1141.4 673.9,1139.8C676,1138.2 678,1135.8 679.8,1135.2C681.6,1134.6 683.1,1136.3 684.9,1135.9C686.7,1135.5 688.4,1133.6 690.8,1133C693.2,1132.4 697,1132.4 699.3,1132.5C701.6,1132.6 701.9,1131.5 704.4,1133.5C706.9,1135.5 711.7,1140.7 714.5,1144.4C717.3,1148.1 718.8,1152.2 721.3,1155.9C723.8,1159.7 727,1163.2 729.8,1166.9C732.6,1170.6 735.7,1173.7 738.2,1177.9C740.7,1182.1 742.7,1188.2 745,1192.3C747.3,1196.4 749.8,1200.3 751.8,1202.5C753.8,1204.7 754.8,1206 756.8,1205.3C758.8,1204.6 761,1201.9 763.6,1198.2C766.2,1194.5 769.3,1189.2 772.1,1183C774.9,1176.8 778.1,1166.2 780.6,1161C783.1,1155.8 785,1153.4 787.3,1151.7C789.5,1150 791.8,1149.7 794.1,1150.8C796.4,1151.9 798.4,1154.5 800.9,1158.4C803.4,1162.4 806.5,1168.8 809.3,1174.5C812.1,1180.2 815.2,1187.2 817.8,1192.3C820.3,1197.4 822.7,1201.9 824.6,1205C826.5,1208.1 827.5,1209.6 829.4,1211.1C831.2,1212.6 833.6,1213.9 835.7,1214C837.8,1214.1 839.5,1213.3 841.9,1211.9C844.2,1210.5 847.2,1207.5 849.8,1205.6C852.4,1203.6 855,1202.7 857.6,1200.2C860.2,1197.7 863,1195 865.4,1190.8C867.8,1186.6 869.6,1181.1 871.7,1175.1C873.8,1169.1 875.9,1161.8 878,1154.7C880.1,1147.7 882.4,1139.1 884.2,1132.8C886,1126.5 887.5,1122.1 888.9,1117.1C890.3,1112.1 891.8,1107.4 892.8,1103C893.8,1098.6 894.3,1094.4 895.2,1090.5C896.1,1086.6 896.7,1083.4 898.3,1079.5C899.9,1075.6 902.5,1070.9 904.6,1067C906.7,1063.1 908.5,1059.5 910.9,1056C913.2,1052.5 916.1,1048.3 918.7,1045.8C921.3,1043.3 923.9,1041.5 926.5,1041.1C929.1,1040.7 931.5,1043.2 934.4,1043.5C937.3,1043.8 941.2,1042.6 943.8,1042.7C946.4,1042.8 947.9,1043.1 950,1044.3C952.1,1045.5 953.9,1047.6 956.3,1049.8C958.6,1052 961.8,1055.8 964.1,1057.6C966.5,1059.4 968.3,1060.4 970.4,1060.4C972.5,1060.4 974.6,1058.7 976.7,1057.6C978.8,1056.5 980.5,1056.3 982.9,1053.7C985.2,1051.1 987.9,1047.7 990.8,1041.9C993.7,1036.2 997.6,1025.7 1000.3,1019.2C1003,1012.7 1004.8,1008.2 1007.1,1003C1009.4,997.8 1011.6,993.1 1013.9,988.1C1016.1,983.1 1018.6,977.1 1020.6,973.2C1022.6,969.4 1023.8,968 1026.1,965C1028.4,962 1031.5,958.4 1034.2,955.5C1036.9,952.6 1039.6,950 1042.3,947.4C1045,944.8 1048,941.8 1050.5,940C1053,938.2 1055,937.6 1057.2,936.6C1059.5,935.6 1061.5,935.6 1064,933.9C1066.5,932.2 1069.4,928.5 1072.1,926.4C1074.8,924.2 1077.8,922 1080.3,921C1082.8,920 1084.8,919.9 1087,920.1C1089.2,920.3 1091.5,921.2 1093.8,922.4C1096.1,923.6 1098.3,925.3 1100.6,927.1C1102.9,928.9 1105.4,931.5 1107.4,933.2C1109.4,934.9 1110.5,936.5 1112.8,937.3C1115,938.1 1118.4,937.7 1120.9,938.2C1123.4,938.7 1125.6,940 1127.7,940.4C1129.8,940.8 1132.8,940.8 1133.8,940.9L1133.8,1105.4L116.3,1105.4Z" fill="#edf6e1" clip-path="url(#cp)"/>
<path d="M116.3,1239.8C117.1,1239.2 119.2,1237.6 121,1235.9C122.8,1234.2 125.1,1231.2 127.2,1229.6C129.3,1228 131.5,1227.6 133.5,1226.5C135.5,1225.4 136.9,1223.3 139,1223C141.1,1222.7 143.7,1224.2 146,1224.9C148.3,1225.6 151,1227.4 153.1,1227C155.2,1226.6 156.9,1224.5 158.6,1222.6C160.3,1220.7 161.7,1218.8 163.3,1215.5C164.9,1212.2 166.4,1207.7 168,1203C169.6,1198.3 171.1,1192.8 172.7,1187.3C174.3,1181.8 175.8,1175.3 177.4,1170.1C179,1164.9 180.3,1159.7 182.1,1156C183.9,1152.3 186.6,1149.5 188.4,1148.1C190.2,1146.6 191.3,1147 193.1,1147.3C194.9,1147.6 197,1148.7 199.3,1149.7C201.7,1150.8 204.8,1153.2 207.2,1153.6C209.5,1154 211.3,1153.4 213.4,1152C215.5,1150.6 217.6,1148.2 219.7,1145C221.8,1141.8 224.2,1136.9 226,1132.5C227.8,1128.1 229.1,1123 230.7,1118.4C232.3,1113.8 234.1,1109.2 235.4,1105C236.7,1100.8 237.2,1097.9 238.5,1093.3C239.8,1088.7 241.6,1082 243.2,1077.6C244.8,1073.1 246.1,1069.3 247.9,1066.6C249.7,1063.9 252.1,1061.7 254.2,1061.6C256.3,1061.5 258.6,1064.1 260.4,1065.9C262.2,1067.8 263.5,1071.1 265.1,1072.7C266.7,1074.3 268.2,1075.7 270.2,1075.3C272.2,1074.9 274.6,1072.9 276.9,1070.2C279.1,1067.5 281.4,1063.6 283.7,1059.2C286,1054.8 288.2,1049.3 290.5,1043.9C292.8,1038.5 295.1,1033.5 297.3,1027C299.6,1020.5 301.8,1012.9 304,1005C306.2,997.1 308.5,987.8 310.8,979.6C313.1,971.4 315.3,962.4 317.6,955.9C319.9,949.4 322.1,944.5 324.4,940.6C326.6,936.7 328.6,934.3 331.1,932.2C333.6,930.1 336.8,928 339.6,927.9C342.4,927.8 345.6,929.2 348.1,931.3C350.6,933.4 352.6,936.8 354.8,940.6C357.1,944.4 359.3,949.1 361.6,954.2C363.9,959.3 366.1,965.2 368.4,971.1C370.7,977 372.9,983.9 375.2,989.8C377.4,995.7 379.6,1003.8 381.9,1006.7C384.1,1009.7 386.4,1007.8 388.7,1007.5C391,1007.2 393.2,1005.9 395.5,1005C397.8,1004.1 400.1,1002.6 402.3,1001.9C404.6,1001.2 406.8,1001.3 409,1000.8C411.2,1000.3 413.5,998.7 415.8,999.1C418.1,999.5 420.4,1001.2 422.6,1003.3C424.9,1005.4 427.1,1009.3 429.3,1011.8C431.6,1014.3 433.8,1016.1 436.1,1018.5C438.4,1020.9 440.6,1024.2 442.9,1026.2C445.2,1028.2 447.6,1030.2 449.7,1030.4C451.8,1030.7 453.6,1029.3 455.4,1027.7C457.2,1026.1 458.6,1023.9 460.7,1020.6C462.8,1017.3 465.5,1012.6 467.9,1008C470.3,1003.4 472.7,997.4 475.1,992.8C477.5,988.2 479.8,984.2 482.2,980.3C484.6,976.4 487,972 489.4,969.5C491.8,967 494.2,966.4 496.6,965.1C499,963.8 501.6,962.7 503.7,961.8C505.8,960.9 507,959.3 509.1,959.7C511.2,960.1 513.8,962.6 516.2,964.2C518.6,965.8 521.3,968.4 523.4,969.5C525.5,970.6 526.7,969.9 528.8,970.8C530.9,971.7 533.2,973.4 535.9,974.9C538.6,976.4 541.9,978.1 544.9,979.7C547.9,981.4 551.5,983.1 553.9,984.8C556.3,986.5 557.1,986.8 559.2,990.1C561.3,993.4 563.7,998.8 566.4,1004.5C569.1,1010.2 572.6,1018.2 575.3,1024.2C578,1030.2 580.1,1033.5 582.5,1040.3C584.9,1047.1 587.6,1057.5 589.7,1065.3C591.8,1073 593.5,1080.2 595,1086.8C596.5,1093.4 597.4,1099.9 598.6,1104.7C599.8,1109.5 600.7,1111 602.2,1115.5C603.7,1120 605.8,1126.5 607.6,1131.6C609.4,1136.7 611.1,1142.2 612.9,1145.9C614.7,1149.6 616.5,1152.3 618.3,1154C620.1,1155.7 621.9,1156 623.7,1155.8C625.5,1155.6 627,1153.1 629.1,1152.7C631.2,1152.3 633.8,1152.9 636.2,1153.4C638.6,1153.9 641.6,1155.3 643.4,1155.8C645.2,1156.3 645.4,1156.7 646.8,1156.4C648.2,1156.1 649.9,1155.1 651.9,1153.9C653.9,1152.7 656.1,1150.6 658.6,1149.1C661.1,1147.6 664.6,1146.5 667.1,1144.9C669.6,1143.4 671.8,1141.4 673.9,1139.8C676,1138.2 678,1135.8 679.8,1135.2C681.6,1134.6 683.1,1136.3 684.9,1135.9C686.7,1135.5 688.4,1133.6 690.8,1133C693.2,1132.4 697,1132.4 699.3,1132.5C701.6,1132.6 701.9,1131.5 704.4,1133.5C706.9,1135.5 711.7,1140.7 714.5,1144.4C717.3,1148.1 718.8,1152.2 721.3,1155.9C723.8,1159.7 727,1163.2 729.8,1166.9C732.6,1170.6 735.7,1173.7 738.2,1177.9C740.7,1182.1 742.7,1188.2 745,1192.3C747.3,1196.4 749.8,1200.3 751.8,1202.5C753.8,1204.7 754.8,1206 756.8,1205.3C758.8,1204.6 761,1201.9 763.6,1198.2C766.2,1194.5 769.3,1189.2 772.1,1183C774.9,1176.8 778.1,1166.2 780.6,1161C783.1,1155.8 785,1153.4 787.3,1151.7C789.5,1150 791.8,1149.7 794.1,1150.8C796.4,1151.9 798.4,1154.5 800.9,1158.4C803.4,1162.4 806.5,1168.8 809.3,1174.5C812.1,1180.2 815.2,1187.2 817.8,1192.3C820.3,1197.4 822.7,1201.9 824.6,1205C826.5,1208.1 827.5,1209.6 829.4,1211.1C831.2,1212.6 833.6,1213.9 835.7,1214C837.8,1214.1 839.5,1213.3 841.9,1211.9C844.2,1210.5 847.2,1207.5 849.8,1205.6C852.4,1203.6 855,1202.7 857.6,1200.2C860.2,1197.7 863,1195 865.4,1190.8C867.8,1186.6 869.6,1181.1 871.7,1175.1C873.8,1169.1 875.9,1161.8 878,1154.7C880.1,1147.7 882.4,1139.1 884.2,1132.8C886,1126.5 887.5,1122.1 888.9,1117.1C890.3,1112.1 891.8,1107.4 892.8,1103C893.8,1098.6 894.3,1094.4 895.2,1090.5C896.1,1086.6 896.7,1083.4 898.3,1079.5C899.9,1075.6 902.5,1070.9 904.6,1067C906.7,1063.1 908.5,1059.5 910.9,1056C913.2,1052.5 916.1,1048.3 918.7,1045.8C921.3,1043.3 923.9,1041.5 926.5,1041.1C929.1,1040.7 931.5,1043.2 934.4,1043.5C937.3,1043.8 941.2,1042.6 943.8,1042.7C946.4,1042.8 947.9,1043.1 950,1044.3C952.1,1045.5 953.9,1047.6 956.3,1049.8C958.6,1052 961.8,1055.8 964.1,1057.6C966.5,1059.4 968.3,1060.4 970.4,1060.4C972.5,1060.4 974.6,1058.7 976.7,1057.6C978.8,1056.5 980.5,1056.3 982.9,1053.7C985.2,1051.1 987.9,1047.7 990.8,1041.9C993.7,1036.2 997.6,1025.7 1000.3,1019.2C1003,1012.7 1004.8,1008.2 1007.1,1003C1009.4,997.8 1011.6,993.1 1013.9,988.1C1016.1,983.1 1018.6,977.1 1020.6,973.2C1022.6,969.4 1023.8,968 1026.1,965C1028.4,962 1031.5,958.4 1034.2,955.5C1036.9,952.6 1039.6,950 1042.3,947.4C1045,944.8 1048,941.8 1050.5,940C1053,938.2 1055,937.6 1057.2,936.6C1059.5,935.6 1061.5,935.6 1064,933.9C1066.5,932.2 1069.4,928.5 1072.1,926.4C1074.8,924.2 1077.8,922 1080.3,921C1082.8,920 1084.8,919.9 1087,920.1C1089.2,920.3 1091.5,921.2 1093.8,922.4C1096.1,923.6 1098.3,925.3 1100.6,927.1C1102.9,928.9 1105.4,931.5 1107.4,933.2C1109.4,934.9 1110.5,936.5 1112.8,937.3C1115,938.1 1118.4,937.7 1120.9,938.2C1123.4,938.7 1125.6,940 1127.7,940.4C1129.8,940.8 1132.8,940.8 1133.8,940.9L1133.8,1105.4L116.3,1105.4Z" fill="#e4e4e4" clip-path="url(#cn)"/>
<path d="M116.3,1239.8C117.1,1239.2 119.2,1237.6 121,1235.9C122.8,1234.2 125.1,1231.2 127.2,1229.6C129.3,1228 131.5,1227.6 133.5,1226.5C135.5,1225.4 136.9,1223.3 139,1223C141.1,1222.7 143.7,1224.2 146,1224.9C148.3,1225.6 151,1227.4 153.1,1227C155.2,1226.6 156.9,1224.5 158.6,1222.6C160.3,1220.7 161.7,1218.8 163.3,1215.5C164.9,1212.2 166.4,1207.7 168,1203C169.6,1198.3 171.1,1192.8 172.7,1187.3C174.3,1181.8 175.8,1175.3 177.4,1170.1C179,1164.9 180.3,1159.7 182.1,1156C183.9,1152.3 186.6,1149.5 188.4,1148.1C190.2,1146.6 191.3,1147 193.1,1147.3C194.9,1147.6 197,1148.7 199.3,1149.7C201.7,1150.8 204.8,1153.2 207.2,1153.6C209.5,1154 211.3,1153.4 213.4,1152C215.5,1150.6 217.6,1148.2 219.7,1145C221.8,1141.8 224.2,1136.9 226,1132.5C227.8,1128.1 229.1,1123 230.7,1118.4C232.3,1113.8 234.1,1109.2 235.4,1105C236.7,1100.8 237.2,1097.9 238.5,1093.3C239.8,1088.7 241.6,1082 243.2,1077.6C244.8,1073.1 246.1,1069.3 247.9,1066.6C249.7,1063.9 252.1,1061.7 254.2,1061.6C256.3,1061.5 258.6,1064.1 260.4,1065.9C262.2,1067.8 263.5,1071.1 265.1,1072.7C266.7,1074.3 268.2,1075.7 270.2,1075.3C272.2,1074.9 274.6,1072.9 276.9,1070.2C279.1,1067.5 281.4,1063.6 283.7,1059.2C286,1054.8 288.2,1049.3 290.5,1043.9C292.8,1038.5 295.1,1033.5 297.3,1027C299.6,1020.5 301.8,1012.9 304,1005C306.2,997.1 308.5,987.8 310.8,979.6C313.1,971.4 315.3,962.4 317.6,955.9C319.9,949.4 322.1,944.5 324.4,940.6C326.6,936.7 328.6,934.3 331.1,932.2C333.6,930.1 336.8,928 339.6,927.9C342.4,927.8 345.6,929.2 348.1,931.3C350.6,933.4 352.6,936.8 354.8,940.6C357.1,944.4 359.3,949.1 361.6,954.2C363.9,959.3 366.1,965.2 368.4,971.1C370.7,977 372.9,983.9 375.2,989.8C377.4,995.7 379.6,1003.8 381.9,1006.7C384.1,1009.7 386.4,1007.8 388.7,1007.5C391,1007.2 393.2,1005.9 395.5,1005C397.8,1004.1 400.1,1002.6 402.3,1001.9C404.6,1001.2 406.8,1001.3 409,1000.8C411.2,1000.3 413.5,998.7 415.8,999.1C418.1,999.5 420.4,1001.2 422.6,1003.3C424.9,1005.4 427.1,1009.3 429.3,1011.8C431.6,1014.3 433.8,1016.1 436.1,1018.5C438.4,1020.9 440.6,1024.2 442.9,1026.2C445.2,1028.2 447.6,1030.2 449.7,1030.4C451.8,1030.7 453.6,1029.3 455.4,1027.7C457.2,1026.1 458.6,1023.9 460.7,1020.6C462.8,1017.3 465.5,1012.6 467.9,1008C470.3,1003.4 472.7,997.4 475.1,992.8C477.5,988.2 479.8,984.2 482.2,980.3C484.6,976.4 487,972 489.4,969.5C491.8,967 494.2,966.4 496.6,965.1C499,963.8 501.6,962.7 503.7,961.8C505.8,960.9 507,959.3 509.1,959.7C511.2,960.1 513.8,962.6 516.2,964.2C518.6,965.8 521.3,968.4 523.4,969.5C525.5,970.6 526.7,969.9 528.8,970.8C530.9,971.7 533.2,973.4 535.9,974.9C538.6,976.4 541.9,978.1 544.9,979.7C547.9,981.4 551.5,983.1 553.9,984.8C556.3,986.5 557.1,986.8 559.2,990.1C561.3,993.4 563.7,998.8 566.4,1004.5C569.1,1010.2 572.6,1018.2 575.3,1024.2C578,1030.2 580.1,1033.5 582.5,1040.3C584.9,1047.1 587.6,1057.5 589.7,1065.3C591.8,1073 593.5,1080.2 595,1086.8C596.5,1093.4 597.4,1099.9 598.6,1104.7C599.8,1109.5 600.7,1111 602.2,1115.5C603.7,1120 605.8,1126.5 607.6,1131.6C609.4,1136.7 611.1,1142.2 612.9,1145.9C614.7,1149.6 616.5,1152.3 618.3,1154C620.1,1155.7 621.9,1156 623.7,1155.8C625.5,1155.6 627,1153.1 629.1,1152.7C631.2,1152.3 633.8,1152.9 636.2,1153.4C638.6,1153.9 641.6,1155.3 643.4,1155.8C645.2,1156.3 645.4,1156.7 646.8,1156.4C648.2,1156.1 649.9,1155.1 651.9,1153.9C653.9,1152.7 656.1,1150.6 658.6,1149.1C661.1,1147.6 664.6,1146.5 667.1,1144.9C669.6,1143.4 671.8,1141.4 673.9,1139.8C676,1138.2 678,1135.8 679.8,1135.2C681.6,1134.6 683.1,1136.3 684.9,1135.9C686.7,1135.5 688.4,1133.6 690.8,1133C693.2,1132.4 697,1132.4 699.3,1132.5C701.6,1132.6 701.9,1131.5 704.4,1133.5C706.9,1135.5 711.7,1140.7 714.5,1144.4C717.3,1148.1 718.8,1152.2 721.3,1155.9C723.8,1159.7 727,1163.2 729.8,1166.9C732.6,1170.6 735.7,1173.7 738.2,1177.9C740.7,1182.1 742.7,1188.2 745,1192.3C747.3,1196.4 749.8,1200.3 751.8,1202.5C753.8,1204.7 754.8,1206 756.8,1205.3C758.8,1204.6 761,1201.9 763.6,1198.2C766.2,1194.5 769.3,1189.2 772.1,1183C774.9,1176.8 778.1,1166.2 780.6,1161C783.1,1155.8 785,1153.4 787.3,1151.7C789.5,1150 791.8,1149.7 794.1,1150.8C796.4,1151.9 798.4,1154.5 800.9,1158.4C803.4,1162.4 806.5,1168.8 809.3,1174.5C812.1,1180.2 815.2,1187.2 817.8,1192.3C820.3,1197.4 822.7,1201.9 824.6,1205C826.5,1208.1 827.5,1209.6 829.4,1211.1C831.2,1212.6 833.6,1213.9 835.7,1214C837.8,1214.1 839.5,1213.3 841.9,1211.9C844.2,1210.5 847.2,1207.5 849.8,1205.6C852.4,1203.6 855,1202.7 857.6,1200.2C860.2,1197.7 863,1195 865.4,1190.8C867.8,1186.6 869.6,1181.1 871.7,1175.1C873.8,1169.1 875.9,1161.8 878,1154.7C880.1,1147.7 882.4,1139.1 884.2,1132.8C886,1126.5 887.5,1122.1 888.9,1117.1C890.3,1112.1 891.8,1107.4 892.8,1103C893.8,1098.6 894.3,1094.4 895.2,1090.5C896.1,1086.6 896.7,1083.4 898.3,1079.5C899.9,1075.6 902.5,1070.9 904.6,1067C906.7,1063.1 908.5,1059.5 910.9,1056C913.2,1052.5 916.1,1048.3 918.7,1045.8C921.3,1043.3 923.9,1041.5 926.5,1041.1C929.1,1040.7 931.5,1043.2 934.4,1043.5C937.3,1043.8 941.2,1042.6 943.8,1042.7C946.4,1042.8 947.9,1043.1 950,1044.3C952.1,1045.5 953.9,1047.6 956.3,1049.8C958.6,1052 961.8,1055.8 964.1,1057.6C966.5,1059.4 968.3,1060.4 970.4,1060.4C972.5,1060.4 974.6,1058.7 976.7,1057.6C978.8,1056.5 980.5,1056.3 982.9,1053.7C985.2,1051.1 987.9,1047.7 990.8,1041.9C993.7,1036.2 997.6,1025.7 1000.3,1019.2C1003,1012.7 1004.8,1008.2 1007.1,1003C1009.4,997.8 1011.6,993.1 1013.9,988.1C1016.1,983.1 1018.6,977.1 1020.6,973.2C1022.6,969.4 1023.8,968 1026.1,965C1028.4,962 1031.5,958.4 1034.2,955.5C1036.9,952.6 1039.6,950 1042.3,947.4C1045,944.8 1048,941.8 1050.5,940C1053,938.2 1055,937.6 1057.2,936.6C1059.5,935.6 1061.5,935.6 1064,933.9C1066.5,932.2 1069.4,928.5 1072.1,926.4C1074.8,924.2 1077.8,922 1080.3,921C1082.8,920 1084.8,919.9 1087,920.1C1089.2,920.3 1091.5,921.2 1093.8,922.4C1096.1,923.6 1098.3,925.3 1100.6,927.1C1102.9,928.9 1105.4,931.5 1107.4,933.2C1109.4,934.9 1110.5,936.5 1112.8,937.3C1115,938.1 1118.4,937.7 1120.9,938.2C1123.4,938.7 1125.6,940 1127.7,940.4C1129.8,940.8 1132.8,940.8 1133.8,940.9" fill="none" stroke="#5a5e58" stroke-width="1.2" stroke-opacity="0.6"/>
<line x1="1133.8" y1="940.9" x2="1133.8" y2="1105.4" stroke="#5a5e58" stroke-width="1" opacity="0.5"/>
<line x1="116.0" y1="1105.4" x2="1133.8" y2="1105.4" stroke="#555" stroke-width="1.5"/>
<rect x="115" y="214.4" width="20.3" height="19" fill="#fff" fill-opacity="0.85"/>
<rect x="1115.2" y="214.4" width="20.3" height="19" fill="#fff" fill-opacity="0.85"/>
<rect x="115" y="733.8" width="20.3" height="19" fill="#fff" fill-opacity="0.85"/>
<rect x="1114.6" y="733.8" width="20.3" height="19" fill="#fff" fill-opacity="0.85"/>
<rect x="115" y="1086.4" width="20.3" height="19" fill="#fff" fill-opacity="0.85"/>
<rect x="1114.6" y="1086.4" width="20.3" height="19" fill="#fff" fill-opacity="0.85"/>
<rect x="115" y="1240.7" width="20.3" height="19" fill="#fff" fill-opacity="0.85"/>
<line x1="116.0" y1="18.2" x2="116.0" y2="405.3" stroke="#606060" stroke-width="2"/>
<line x1="108" y1="19" x2="116.0" y2="19" stroke="#606060" stroke-width="1.7"/>
<text transform="translate(96,26.2) scale(1,1.02)" class="tk" text-anchor="end">0.1</text>
<line x1="108" y1="61.8" x2="116.0" y2="61.8" stroke="#606060" stroke-width="1.7"/>
<text transform="translate(96,68.6) scale(1,1.02)" class="tk" text-anchor="end">0.08</text>
<line x1="108" y1="104.7" x2="116.0" y2="104.7" stroke="#606060" stroke-width="1.7"/>
<text transform="translate(96,111) scale(1,1.02)" class="tk" text-anchor="end">0.06</text>
<line x1="108" y1="147.5" x2="116.0" y2="147.5" stroke="#606060" stroke-width="1.7"/>
<text transform="translate(96,153.4) scale(1,1.02)" class="tk" text-anchor="end">0.04</text>
<line x1="108" y1="190.3" x2="116.0" y2="190.3" stroke="#606060" stroke-width="1.7"/>
<text transform="translate(96,195.9) scale(1,1.02)" class="tk" text-anchor="end">0.02</text>
<line x1="108" y1="233.1" x2="116.0" y2="233.1" stroke="#606060" stroke-width="1.7"/>
<text transform="translate(96,238.3) scale(1,1.02)" class="tk" text-anchor="end">0.00</text>
<line x1="108" y1="276" x2="116.0" y2="276" stroke="#606060" stroke-width="1.7"/>
<text transform="translate(96,280.7) scale(1,1.02)" class="tk" text-anchor="end">-0.02</text>
<line x1="108" y1="318.8" x2="116.0" y2="318.8" stroke="#606060" stroke-width="1.7"/>
<text transform="translate(96,323.2) scale(1,1.02)" class="tk" text-anchor="end">-0.04</text>
<line x1="108" y1="361.6" x2="116.0" y2="361.6" stroke="#606060" stroke-width="1.7"/>
<text transform="translate(96,365.6) scale(1,1.02)" class="tk" text-anchor="end">-0.06</text>
<line x1="108" y1="404.5" x2="116.0" y2="404.5" stroke="#606060" stroke-width="1.7"/>
<text transform="translate(96,408) scale(1,1.02)" class="tk" text-anchor="end">-0.08</text>
<line x1="116.0" y1="443" x2="116.0" y2="830.3" stroke="#606060" stroke-width="2"/>
<line x1="108" y1="443.8" x2="116.0" y2="443.8" stroke="#606060" stroke-width="1.7"/>
<text transform="translate(96,452.4) scale(1,1.02)" class="tk" text-anchor="end">0.20</text>
<line x1="108" y1="520.9" x2="116.0" y2="520.9" stroke="#606060" stroke-width="1.7"/>
<text transform="translate(96,528.2) scale(1,1.02)" class="tk" text-anchor="end">0.15</text>
<line x1="108" y1="598.1" x2="116.0" y2="598.1" stroke="#606060" stroke-width="1.7"/>
<text transform="translate(96,603.9) scale(1,1.02)" class="tk" text-anchor="end">0.10</text>
<line x1="108" y1="675.2" x2="116.0" y2="675.2" stroke="#606060" stroke-width="1.7"/>
<text transform="translate(96,679.6) scale(1,1.02)" class="tk" text-anchor="end">0.05</text>
<line x1="108" y1="752.4" x2="116.0" y2="752.4" stroke="#606060" stroke-width="1.7"/>
<text transform="translate(96,755.4) scale(1,1.02)" class="tk" text-anchor="end">0.00</text>
<line x1="108" y1="829.5" x2="116.0" y2="829.5" stroke="#606060" stroke-width="1.7"/>
<text transform="translate(96,831.1) scale(1,1.02)" class="tk" text-anchor="end">-0.05</text>
<line x1="116.0" y1="873" x2="116.0" y2="1260.5" stroke="#606060" stroke-width="2"/>
<line x1="108" y1="873.8" x2="116.0" y2="873.8" stroke="#606060" stroke-width="1.7"/>
<text transform="translate(96,881.9) scale(1,1.02)" class="tk" text-anchor="end">0.12</text>
<line x1="108" y1="912.4" x2="116.0" y2="912.4" stroke="#606060" stroke-width="1.7"/>
<text transform="translate(96,920.3) scale(1,1.02)" class="tk" text-anchor="end">0.10</text>
<line x1="108" y1="951" x2="116.0" y2="951" stroke="#606060" stroke-width="1.7"/>
<text transform="translate(96,958.6) scale(1,1.02)" class="tk" text-anchor="end">0.08</text>
<line x1="108" y1="989.6" x2="116.0" y2="989.6" stroke="#606060" stroke-width="1.7"/>
<text transform="translate(96,997) scale(1,1.02)" class="tk" text-anchor="end">0.06</text>
<line x1="108" y1="1028.2" x2="116.0" y2="1028.2" stroke="#606060" stroke-width="1.7"/>
<text transform="translate(96,1035.4) scale(1,1.02)" class="tk" text-anchor="end">0.04</text>
<line x1="108" y1="1066.8" x2="116.0" y2="1066.8" stroke="#606060" stroke-width="1.7"/>
<text transform="translate(96,1073.7) scale(1,1.02)" class="tk" text-anchor="end">0.02</text>
<line x1="108" y1="1105.3" x2="116.0" y2="1105.3" stroke="#606060" stroke-width="1.7"/>
<text transform="translate(96,1112.1) scale(1,1.02)" class="tk" text-anchor="end">0.00</text>
<line x1="108" y1="1143.9" x2="116.0" y2="1143.9" stroke="#606060" stroke-width="1.7"/>
<text transform="translate(96,1150.4) scale(1,1.02)" class="tk" text-anchor="end">-0.02</text>
<line x1="108" y1="1182.5" x2="116.0" y2="1182.5" stroke="#606060" stroke-width="1.7"/>
<text transform="translate(96,1188.8) scale(1,1.02)" class="tk" text-anchor="end">-0.04</text>
<line x1="108" y1="1221.1" x2="116.0" y2="1221.1" stroke="#606060" stroke-width="1.7"/>
<text transform="translate(96,1227.2) scale(1,1.02)" class="tk" text-anchor="end">-0.06</text>
<line x1="108" y1="1259.7" x2="116.0" y2="1259.7" stroke="#606060" stroke-width="1.7"/>
<text transform="translate(96,1265.5) scale(1,1.02)" class="tk" text-anchor="end">-0.08</text>
<line x1="116.0" y1="1259.7" x2="1134.6" y2="1259.7" stroke="#606060" stroke-width="2"/>
<line x1="116.3" y1="1259.7" x2="116.3" y2="1266.7" stroke="#606060" stroke-width="1.7"/>
<line x1="285.9" y1="1259.7" x2="285.9" y2="1266.7" stroke="#606060" stroke-width="1.7"/>
<line x1="455.5" y1="1259.7" x2="455.5" y2="1266.7" stroke="#606060" stroke-width="1.7"/>
<line x1="625.1" y1="1259.7" x2="625.1" y2="1266.7" stroke="#606060" stroke-width="1.7"/>
<line x1="794.7" y1="1259.7" x2="794.7" y2="1266.7" stroke="#606060" stroke-width="1.7"/>
<line x1="964.3" y1="1259.7" x2="964.3" y2="1266.7" stroke="#606060" stroke-width="1.7"/>
<line x1="1133.9" y1="1259.7" x2="1133.9" y2="1266.7" stroke="#606060" stroke-width="1.7"/>
<text transform="translate(96.9,1301.8) scale(1,1.02)" class="xl">1500</text>
<text transform="translate(429.2,1301.8) scale(1,1.02)" class="xl">1550</text>
<text transform="translate(769.2,1301.8) scale(1,1.02)" class="xl">1600</text>
<text transform="translate(1109.8,1301.8) scale(1,1.02)" class="xl">1650</text>
<text transform="translate(945.5,1333.4) scale(1,1.02)" class="xt">Raman shift (cm<tspan font-size="15.5" dy="-9.6" dx="1.2">-</tspan><tspan font-size="15" dx="1.8">1</tspan><tspan dy="9.6" dx="0.9">)</tspan></text>
<rect x="116" y="215.4" width="18.3" height="18" fill="#000"/>
<rect x="1116.2" y="215.4" width="18.3" height="18" fill="#000"/>
<rect x="116" y="734.8" width="18.3" height="18" fill="#000"/>
<rect x="1115.6" y="734.8" width="18.3" height="18" fill="#000"/>
<rect x="116" y="1087.4" width="18.3" height="18" fill="#000"/>
<rect x="1115.6" y="1087.4" width="18.3" height="18" fill="#000"/>
<rect x="116" y="1241.7" width="18.3" height="18" fill="#000"/>
<text transform="translate(134.2,38.3) scale(1,1.02)" class="an">Pigment type and PFPs</text>
<text transform="translate(552.4,79.7) scale(1,1.02)" class="an">C-O functional groups</text>
<text transform="translate(466,334.7) scale(1,1.02)" class="an">C-N functional groups</text>
<text transform="translate(134.2,464.4) scale(1,1.02)" class="an">Pigments</text>
<text transform="translate(582.5,672.7) scale(1,1.02)" class="an">Eggshell pigments</text>
<text transform="translate(513.5,815.9) scale(1,1.02)" class="an">Protein fossilization products</text>
<text transform="translate(0,26.0) scale(0.89,1.02)" class="pl">a</text>
<text transform="translate(-0.5,462.2)" class="pl">b</text>
<text transform="translate(-0.2,890.0) scale(0.98,1.02)" class="pl">c</text>
<text transform="translate(1171.6,336.4) rotate(-90) scale(1,1.03)" class="rl"><tspan font-size="24.6px">Loadings </tspan><tspan font-weight="bold" font-size="25.5px">PC 1</tspan><tspan font-size="24.8px"> (arbitrary units)</tspan></text>
<text transform="translate(1171.6,831.2) rotate(-90) scale(1,1.03)" class="rl"><tspan font-size="24.6px">Loadings </tspan><tspan font-weight="bold" font-size="25.5px">PC 2</tspan><tspan font-size="24.8px"> (arbitrary units)</tspan></text>
<text transform="translate(1171.6,1238.2) rotate(-90) scale(1,1.03)" class="rl"><tspan font-size="24.6px">Loadings </tspan><tspan font-weight="bold" font-size="25.5px">PC 3</tspan><tspan font-size="24.8px"> (arbitrary units)</tspan></text>
<g transform="translate(96,26.2) scale(1,1.02)"><rect x="-12.62" y="-2.57" width="4.93" height="3.17" fill="#fff"/><rect x="-5.38" y="-2.57" width="4.74" height="3.17" fill="#fff"/></g>
<g transform="translate(96,528.2) scale(1,1.02)"><rect x="-26.53" y="-2.57" width="4.93" height="3.17" fill="#fff"/><rect x="-19.28" y="-2.57" width="4.74" height="3.17" fill="#fff"/></g>
<g transform="translate(96,603.9) scale(1,1.02)"><rect x="-26.53" y="-2.57" width="4.93" height="3.17" fill="#fff"/><rect x="-19.28" y="-2.57" width="4.74" height="3.17" fill="#fff"/></g>
<g transform="translate(96,881.9) scale(1,1.02)"><rect x="-26.53" y="-2.57" width="4.93" height="3.17" fill="#fff"/><rect x="-19.28" y="-2.57" width="4.74" height="3.17" fill="#fff"/></g>
<g transform="translate(96,920.3) scale(1,1.02)"><rect x="-26.53" y="-2.57" width="4.93" height="3.17" fill="#fff"/><rect x="-19.28" y="-2.57" width="4.74" height="3.17" fill="#fff"/></g>
<g transform="translate(96.9,1301.8) scale(1,1.02)"><rect x="1.59" y="-2.85" width="5.60" height="3.45" fill="#fff"/><rect x="9.84" y="-2.85" width="5.37" height="3.45" fill="#fff"/></g>
<g transform="translate(429.2,1301.8) scale(1,1.02)"><rect x="1.59" y="-2.85" width="5.60" height="3.45" fill="#fff"/><rect x="9.84" y="-2.85" width="5.37" height="3.45" fill="#fff"/></g>
<g transform="translate(769.2,1301.8) scale(1,1.02)"><rect x="1.59" y="-2.85" width="5.60" height="3.45" fill="#fff"/><rect x="9.84" y="-2.85" width="5.37" height="3.45" fill="#fff"/></g>
<g transform="translate(1109.8,1301.8) scale(1,1.02)"><rect x="1.59" y="-2.85" width="5.60" height="3.45" fill="#fff"/><rect x="9.84" y="-2.85" width="5.37" height="3.45" fill="#fff"/></g>
<g transform="translate(945.5,1333.4) scale(1,1.02)"><rect x="218.28" y="-11.42" width="3.18" height="2.42" fill="#fff"/><rect x="222.88" y="-11.42" width="3.06" height="2.42" fill="#fff"/></g>
<g transform="translate(1171.6,336.4) rotate(-90) scale(1,1.03)"><rect x="150.17" y="-3.30" width="4.90" height="3.90" fill="#fff"/><rect x="158.67" y="-3.30" width="4.57" height="3.90" fill="#fff"/></g>
</svg>
</body></html>
